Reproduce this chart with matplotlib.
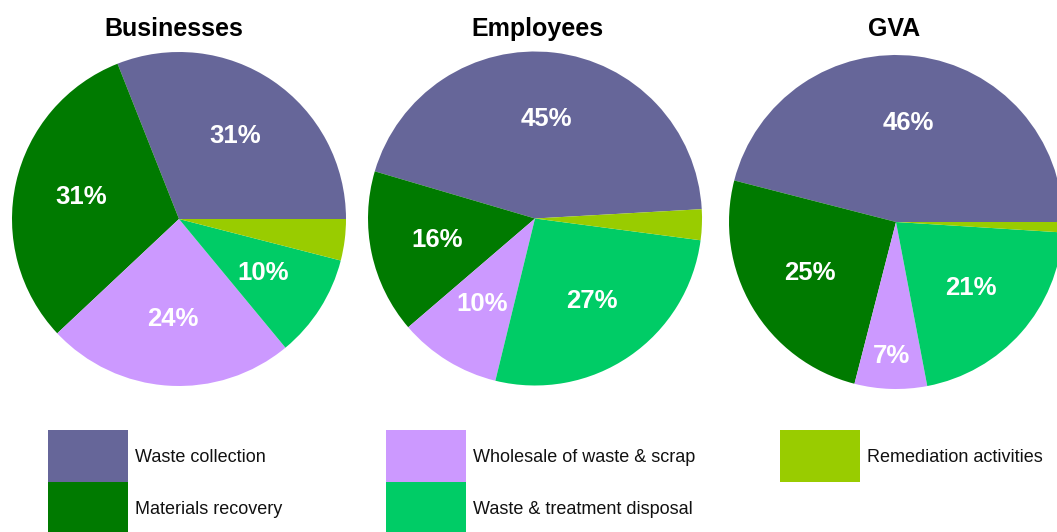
import matplotlib
matplotlib.use('Agg')
import matplotlib.pyplot as plt
from matplotlib.patches import Rectangle
import numpy as np

plt.rcParams['font.family'] = ['Liberation Sans', 'DejaVu Sans']

# share of each activity (%) for the three measures
panels = ['Businesses', 'Employees', 'GVA']
segments = ['Waste collection', 'Materials recovery', 'Wholesale of waste & scrap',
            'Waste & treatment disposal', 'Remediation activities']
businesses = [31, 31, 24, 10, 4]
employees = [45, 16, 10, 27, 3]
gva = [46, 25, 7, 21, 1]
colors = ['#666699', '#007a00', '#cc99ff', '#00cc66', '#99cc00']

W, H = 1057, 532
fig = plt.figure(figsize=(W / 100, H / 100), dpi=100)

# pie centres / radius in pixels (from top-left)
centres = [(179, 219), (535, 218.5), (896, 222)]
title_x = [174, 537, 894]
R = 167
starts = [0, 3.2, 0]

for name, vals, (cx, cy), tx, st in zip(panels, [businesses, employees, gva],
                                        centres, title_x, starts):
    ax = fig.add_axes([(cx - R) / W, (H - cy - R) / H, 2 * R / W, 2 * R / H])
    labels = [f'{v}%' if v >= 5 else '' for v in vals]
    wedges, texts = ax.pie(vals, colors=colors, labels=labels, labeldistance=0.6,
                           startangle=st, counterclock=True,
                           wedgeprops=dict(linewidth=0))
    for v, w, t in zip(vals, wedges, texts):
        t.set_ha('center')
        t.set_va('center')
        t.set_color('white')
        t.set_fontweight('bold')
        t.set_fontsize(18.5)
        # narrow slices get their label pushed out towards the rim
        if v < 8:
            ang = np.deg2rad((w.theta1 + w.theta2) / 2)
            t.set_position((0.8 * np.cos(ang), 0.8 * np.sin(ang)))
    ax.set_xlim(-1, 1)
    ax.set_ylim(-1, 1)
    ax.set_aspect('equal')
    ax.axis('off')
    fig.text(tx / W, 1 - 36 / H, name, ha='center', va='baseline',
             fontsize=18, fontweight='bold')

# legend drawn in pixel coordinates along the bottom
lg = fig.add_axes([0, 0, 1, 1], zorder=-1)
lg.set_xlim(0, W)
lg.set_ylim(H, 0)
lg.axis('off')
col_x = [48, 386, 780]
for i, (seg, c) in enumerate(zip(segments, colors)):
    x = col_x[i // 2]
    y = 430 + 52 * (i % 2)
    lg.add_patch(Rectangle((x, y), 80, 52, facecolor=c, edgecolor='none'))
    lg.text(x + 87, y + 27.5, seg, ha='left', va='center', fontsize=13, color='#111111')

fig.savefig('out.png', dpi=100)
